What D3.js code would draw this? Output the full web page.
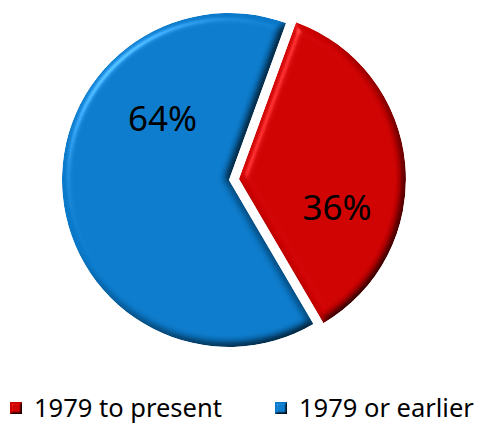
<!DOCTYPE html>
<html>
<head>
<meta charset="utf-8">
<script src="https://cdn.jsdelivr.net/npm/d3@7"></script>
<style>
  html, body { margin: 0; padding: 0; background: #fff; }
  svg { display: block; }
  text { font-family: "Noto Sans", "Open Sans", sans-serif; fill: #000; }
</style>
</head>
<body>
<svg id="chart" width="478" height="425"></svg>
<script>
// Share of items by period
const categories = ["1979 to present", "1979 or earlier"];
const shares = [36, 64];
const colors = ["#cc0000", "#0a78c8"];
const explode = [10, 0];
// label placement: angle (deg, clockwise from top) and distance from slice centre
const labelAngle = [106, 313];
const labelDist = [102, 91];

const W = 478, H = 425;
const cx = 229, cy = 180, radius = 167;
const svg = d3.select("#chart");

// Rounded bevel: shade by diffuse light normalised to the flat face, add a specular rim
const defs = svg.append("defs");
function bevel(id, blur, scale) {
  const f = defs.append("filter").attr("id", id)
    .attr("x", "-10%").attr("y", "-10%").attr("width", "120%").attr("height", "120%")
    .attr("color-interpolation-filters", "sRGB");
  f.append("feGaussianBlur").attr("in", "SourceAlpha").attr("stdDeviation", blur).attr("result", "blur");
  f.append("feDiffuseLighting").attr("in", "blur").attr("surfaceScale", scale)
    .attr("diffuseConstant", 1 / Math.sin(50 * Math.PI / 180))
    .attr("lighting-color", "#ffffff").attr("result", "diff")
    .append("feDistantLight").attr("azimuth", 225).attr("elevation", 50);
  f.append("feComposite").attr("in", "SourceGraphic").attr("in2", "diff").attr("operator", "arithmetic")
    .attr("k1", 1).attr("k2", 0).attr("k3", 0).attr("k4", 0).attr("result", "shade");
  f.append("feSpecularLighting").attr("in", "blur").attr("surfaceScale", scale)
    .attr("specularConstant", 0.6).attr("specularExponent", 45)
    .attr("lighting-color", "#ffffff").attr("result", "spec")
    .append("feDistantLight").attr("azimuth", 225).attr("elevation", 50);
  f.append("feComposite").attr("in", "shade").attr("in2", "spec").attr("operator", "arithmetic")
    .attr("k1", 0).attr("k2", 1).attr("k3", 0.5).attr("k4", 0).attr("result", "lit");
  f.append("feComposite").attr("in", "lit").attr("in2", "SourceAlpha").attr("operator", "in");
}
bevel("bevel", 4, 4);
bevel("bevelSmall", 1.2, 2);

const pie = d3.pie().sort(null).startAngle(20 * Math.PI / 180).endAngle(380 * Math.PI / 180);
const arcs = pie(shares);
const arc = d3.arc().innerRadius(0).outerRadius(radius);

const g = svg.append("g").attr("transform", `translate(${cx},${cy})`);

const slice = g.selectAll("g.slice").data(arcs).join("g")
  .attr("class", "slice")
  .attr("transform", (d, i) => {
    const a = (d.startAngle + d.endAngle) / 2;
    return `translate(${explode[i] * Math.sin(a)},${-explode[i] * Math.cos(a)})`;
  });

slice.append("path")
  .attr("d", arc)
  .attr("fill", (d, i) => colors[i])
  .attr("filter", "url(#bevel)");

// Percentage labels
slice.append("text")
  .attr("transform", (d, i) => {
    const a = labelAngle[i] * Math.PI / 180;
    return `translate(${labelDist[i] * Math.sin(a)},${-labelDist[i] * Math.cos(a)})`;
  })
  .attr("text-anchor", "middle")
  .attr("dy", "0.36em")
  .attr("font-size", 35)
  .text(d => Math.round(d.data) + "%");

// Legend
const legendX = [10, 275];
const leg = svg.append("g").selectAll("g").data(categories).join("g")
  .attr("transform", (d, i) => `translate(${legendX[i]},408)`);
leg.append("rect").attr("x", 0).attr("y", -6).attr("width", 12).attr("height", 12)
  .attr("fill", (d, i) => colors[i]).attr("filter", "url(#bevelSmall)");
leg.append("text").attr("x", 24).attr("dy", "0.36em").attr("font-size", 25.5).text(d => d);
</script>
</body>
</html>
